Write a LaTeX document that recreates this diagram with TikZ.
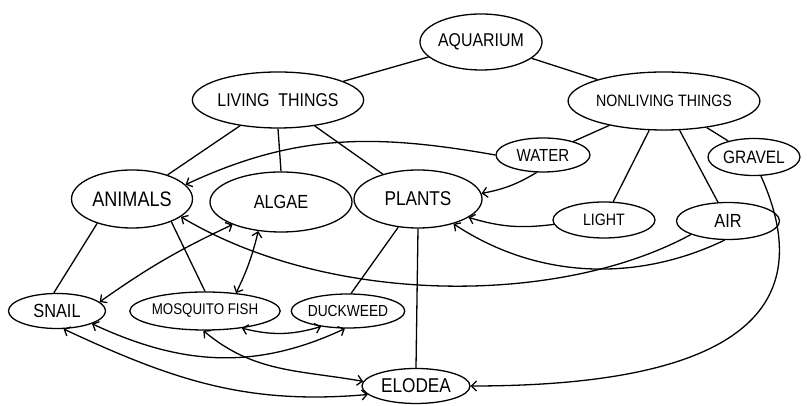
\documentclass[tikz,border=0pt]{standalone}
\usepackage{fontspec}
\setmainfont[FakeStretch=0.86]{Liberation Sans}
\usetikzlibrary{shapes.geometric,arrows.meta}

\begin{document}
\begin{tikzpicture}[x=1pt, y=1pt, line width=1.3pt,
  concept/.style={draw, ellipse, inner sep=0pt, font=\fontsize{#1}{#1}\selectfont},
  arr/.style={-{Straight Barb[length=5pt,width=10pt]}},
  both/.style={{Straight Barb[length=5pt,width=10pt]}-{Straight Barb[length=5pt,width=10pt]}}]
\useasboundingbox (0,0) rectangle (807,406);
% top levels
\node[concept=18.5, minimum width=122, minimum height=56] (aqua) at (481,364) {AQUARIUM};
\node[concept=18.5, minimum width=142, minimum height=56] (living) at (278,306) {LIVING\ \ THINGS};
\node[concept=16.5, minimum width=148, minimum height=58] (nonliving) at (664,305) {NONLIVING THINGS};
% nonliving things
\node[concept=17.5, minimum width=94, minimum height=34] (water) at (543,251) {WATER};
\node[concept=18, minimum width=92, minimum height=37] (gravel) at (754,249) {GRAVEL};
\node[concept=16.5, minimum width=102, minimum height=36] (light) at (604,186) {LIGHT};
\node[concept=19, minimum width=103, minimum height=37] (air) at (728,185) {AIR};
% living things
\node[concept=21, minimum width=121, minimum height=58] (animals) at (132,207) {ANIMALS};
\node[concept=19, minimum width=142, minimum height=60] (algae) at (281,204) {ALGAE};
\node[concept=20, minimum width=128, minimum height=58] (plants) at (418,207) {PLANTS};
\node[concept=19, minimum width=97, minimum height=35] (snail) at (57,95) {SNAIL};
\node[concept=15.5, minimum width=121, minimum height=38] (mosquito) at (205,95) {MOSQUITO FISH};
\node[concept=16, minimum width=98, minimum height=34] (duckweed) at (348,95) {DUCKWEED};
\node[concept=20, minimum width=108, minimum height=35] (elodea) at (416,20) {ELODEA};
% tree links
\draw (aqua) -- (living);
\draw (aqua) -- (nonliving);
\draw (living) -- (animals);
\draw (living.south) -- (algae.north);
\draw (living) -- (plants);
\draw (nonliving) -- (water);
\draw (nonliving) -- (light);
\draw (nonliving) -- (air);
\draw (nonliving) -- (gravel);
\draw (animals.-145) -- (snail.100);
\draw (animals.-30) -- (mosquito.north);
\draw (plants.-125) -- (duckweed.80);
\draw (plants.south) -- (elodea.north);
% cross links
\draw[arr] (water.west) to[out=170, in=25] (animals.15);
\draw[arr] (water.250) to[bend left=10] (plants.5);
\draw[arr] (light.185) to[bend left=12] (plants.-20);
\draw[arr] (air.-100) .. controls (640,125) and (540,125) .. (plants.-35);
\draw[arr] (air.200) .. controls (560,100) and (330,100) .. (animals.-20);
\draw[arr] (gravel.-70) .. controls (815,110) and (760,20) .. (elodea.east);
\draw[both] (snail.12) to[bend left=5] (algae.205);
\draw[both] (mosquito.30) to[bend right=6] (algae.232);
\draw[both] (mosquito.-25) to[bend right=15] (duckweed.-150);
\draw[both] (snail.-20) to[out=-25, in=205] (duckweed.260);
\draw[both] (snail.-70) to[out=-25, in=185] (elodea.190);
\draw[both] (mosquito.-95) to[out=-40, in=170] (elodea.175);
\end{tikzpicture}
\end{document}
